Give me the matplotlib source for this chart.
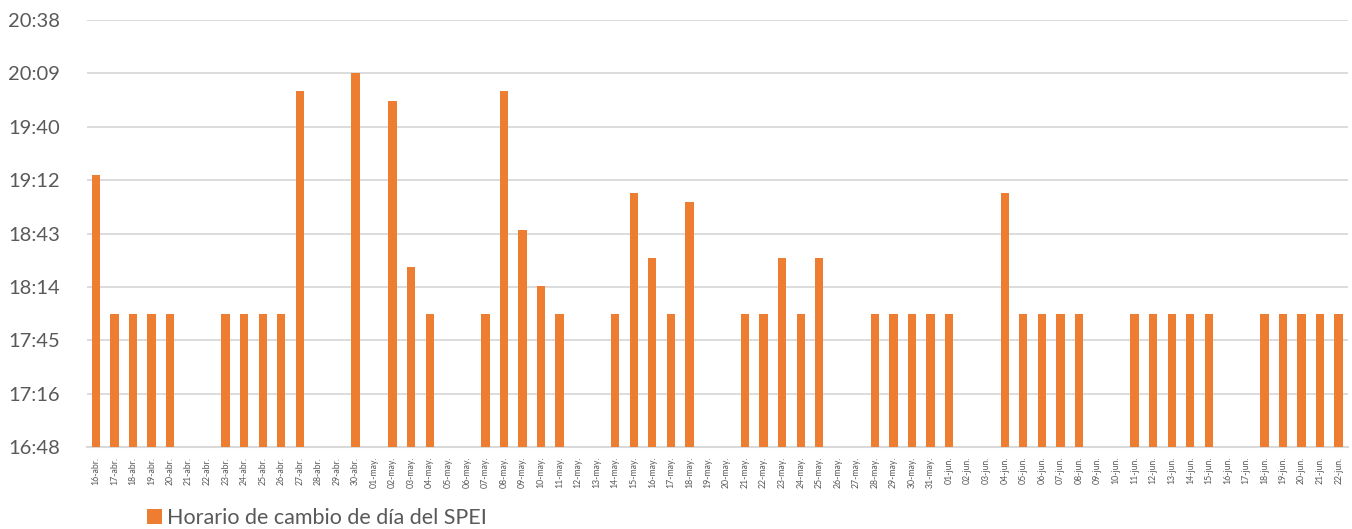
import matplotlib.pyplot as plt
import numpy as np

plt.rcParams['font.family'] = ['Lato', 'DejaVu Sans']

# categorias: dias del 16-abr al 22-jun
meses = [('abr.', 16, 30), ('may.', 1, 31), ('jun.', 1, 22)]
dias = []
for mes, ini, fin in meses:
    for d in range(ini, fin + 1):
        dias.append('%02d-%s' % (d, mes))

# hora de cambio de dia (vacio = sin dato)
horas = [
    '19:15', '18:00', '18:00', '18:00', '18:00', '', '', '18:00', '18:00', '18:00',
    '18:00', '20:00', '', '', '20:10',
    '', '19:55', '18:25', '18:00', '', '', '18:00', '20:00', '18:45', '18:15',
    '18:00', '', '', '18:00', '19:05', '18:30', '18:00', '19:00', '', '',
    '18:00', '18:00', '18:30', '18:00', '18:30', '', '', '18:00', '18:00', '18:00',
    '18:00',
    '18:00', '', '', '19:05', '18:00', '18:00', '18:00', '18:00', '', '',
    '18:00', '18:00', '18:00', '18:00', '18:00', '', '', '18:00', '18:00', '18:00',
    '18:00', '18:00',
]

ticks_y = [0.70, 0.72, 0.74, 0.76, 0.78, 0.80, 0.82, 0.84, 0.86]
etiquetas_y = ['16:48', '17:16', '17:45', '18:14', '18:43', '19:12', '19:40', '20:09', '20:38']


def a_fraccion(h):
    if h == '':
        return np.nan
    hh, mm = h.split(':')
    return (int(hh) * 60 + int(mm)) / 1440.0


valores = np.array([a_fraccion(h) for h in horas])
base = 0.70

fig = plt.figure(figsize=(13.52, 5.29), dpi=100)
ax = fig.add_axes([0.064, 0.155, 0.933, 0.807])

x = np.arange(len(dias))
ax.bar(x, np.nan_to_num(valores - base), bottom=base, width=0.45,
       color='#ED7D31', zorder=3, label='Horario de cambio de día del SPEI')

ax.set_xlim(-0.5, len(dias) - 0.5)
ax.set_ylim(0.70, 0.86)
ax.set_yticks(ticks_y)
ax.set_yticklabels(etiquetas_y, fontsize=14.5, color='#595959')
ax.set_xticks(x)
ax.set_xticklabels(dias, rotation=90, fontsize=6.3, color='#595959')
ax.tick_params(axis='both', length=0)
ax.tick_params(axis='y', pad=19)
ax.tick_params(axis='x', pad=7)

ax.grid(axis='y', color='#d9d9d9', linewidth=1.3, zorder=0)
for lado in ['top', 'right', 'left']:
    ax.spines[lado].set_visible(False)
ax.spines['bottom'].set_color('#d9d9d9')
ax.spines['bottom'].set_linewidth(1.5)

ley = ax.legend(loc='center left', bbox_to_anchor=(0.0476, -0.166), frameon=False,
                fontsize=15.5, handlelength=0.7, handleheight=0.7,
                handletextpad=0.25, borderaxespad=0, borderpad=0)
for t in ley.get_texts():
    t.set_color('#595959')

plt.savefig('out.png', dpi=100)
